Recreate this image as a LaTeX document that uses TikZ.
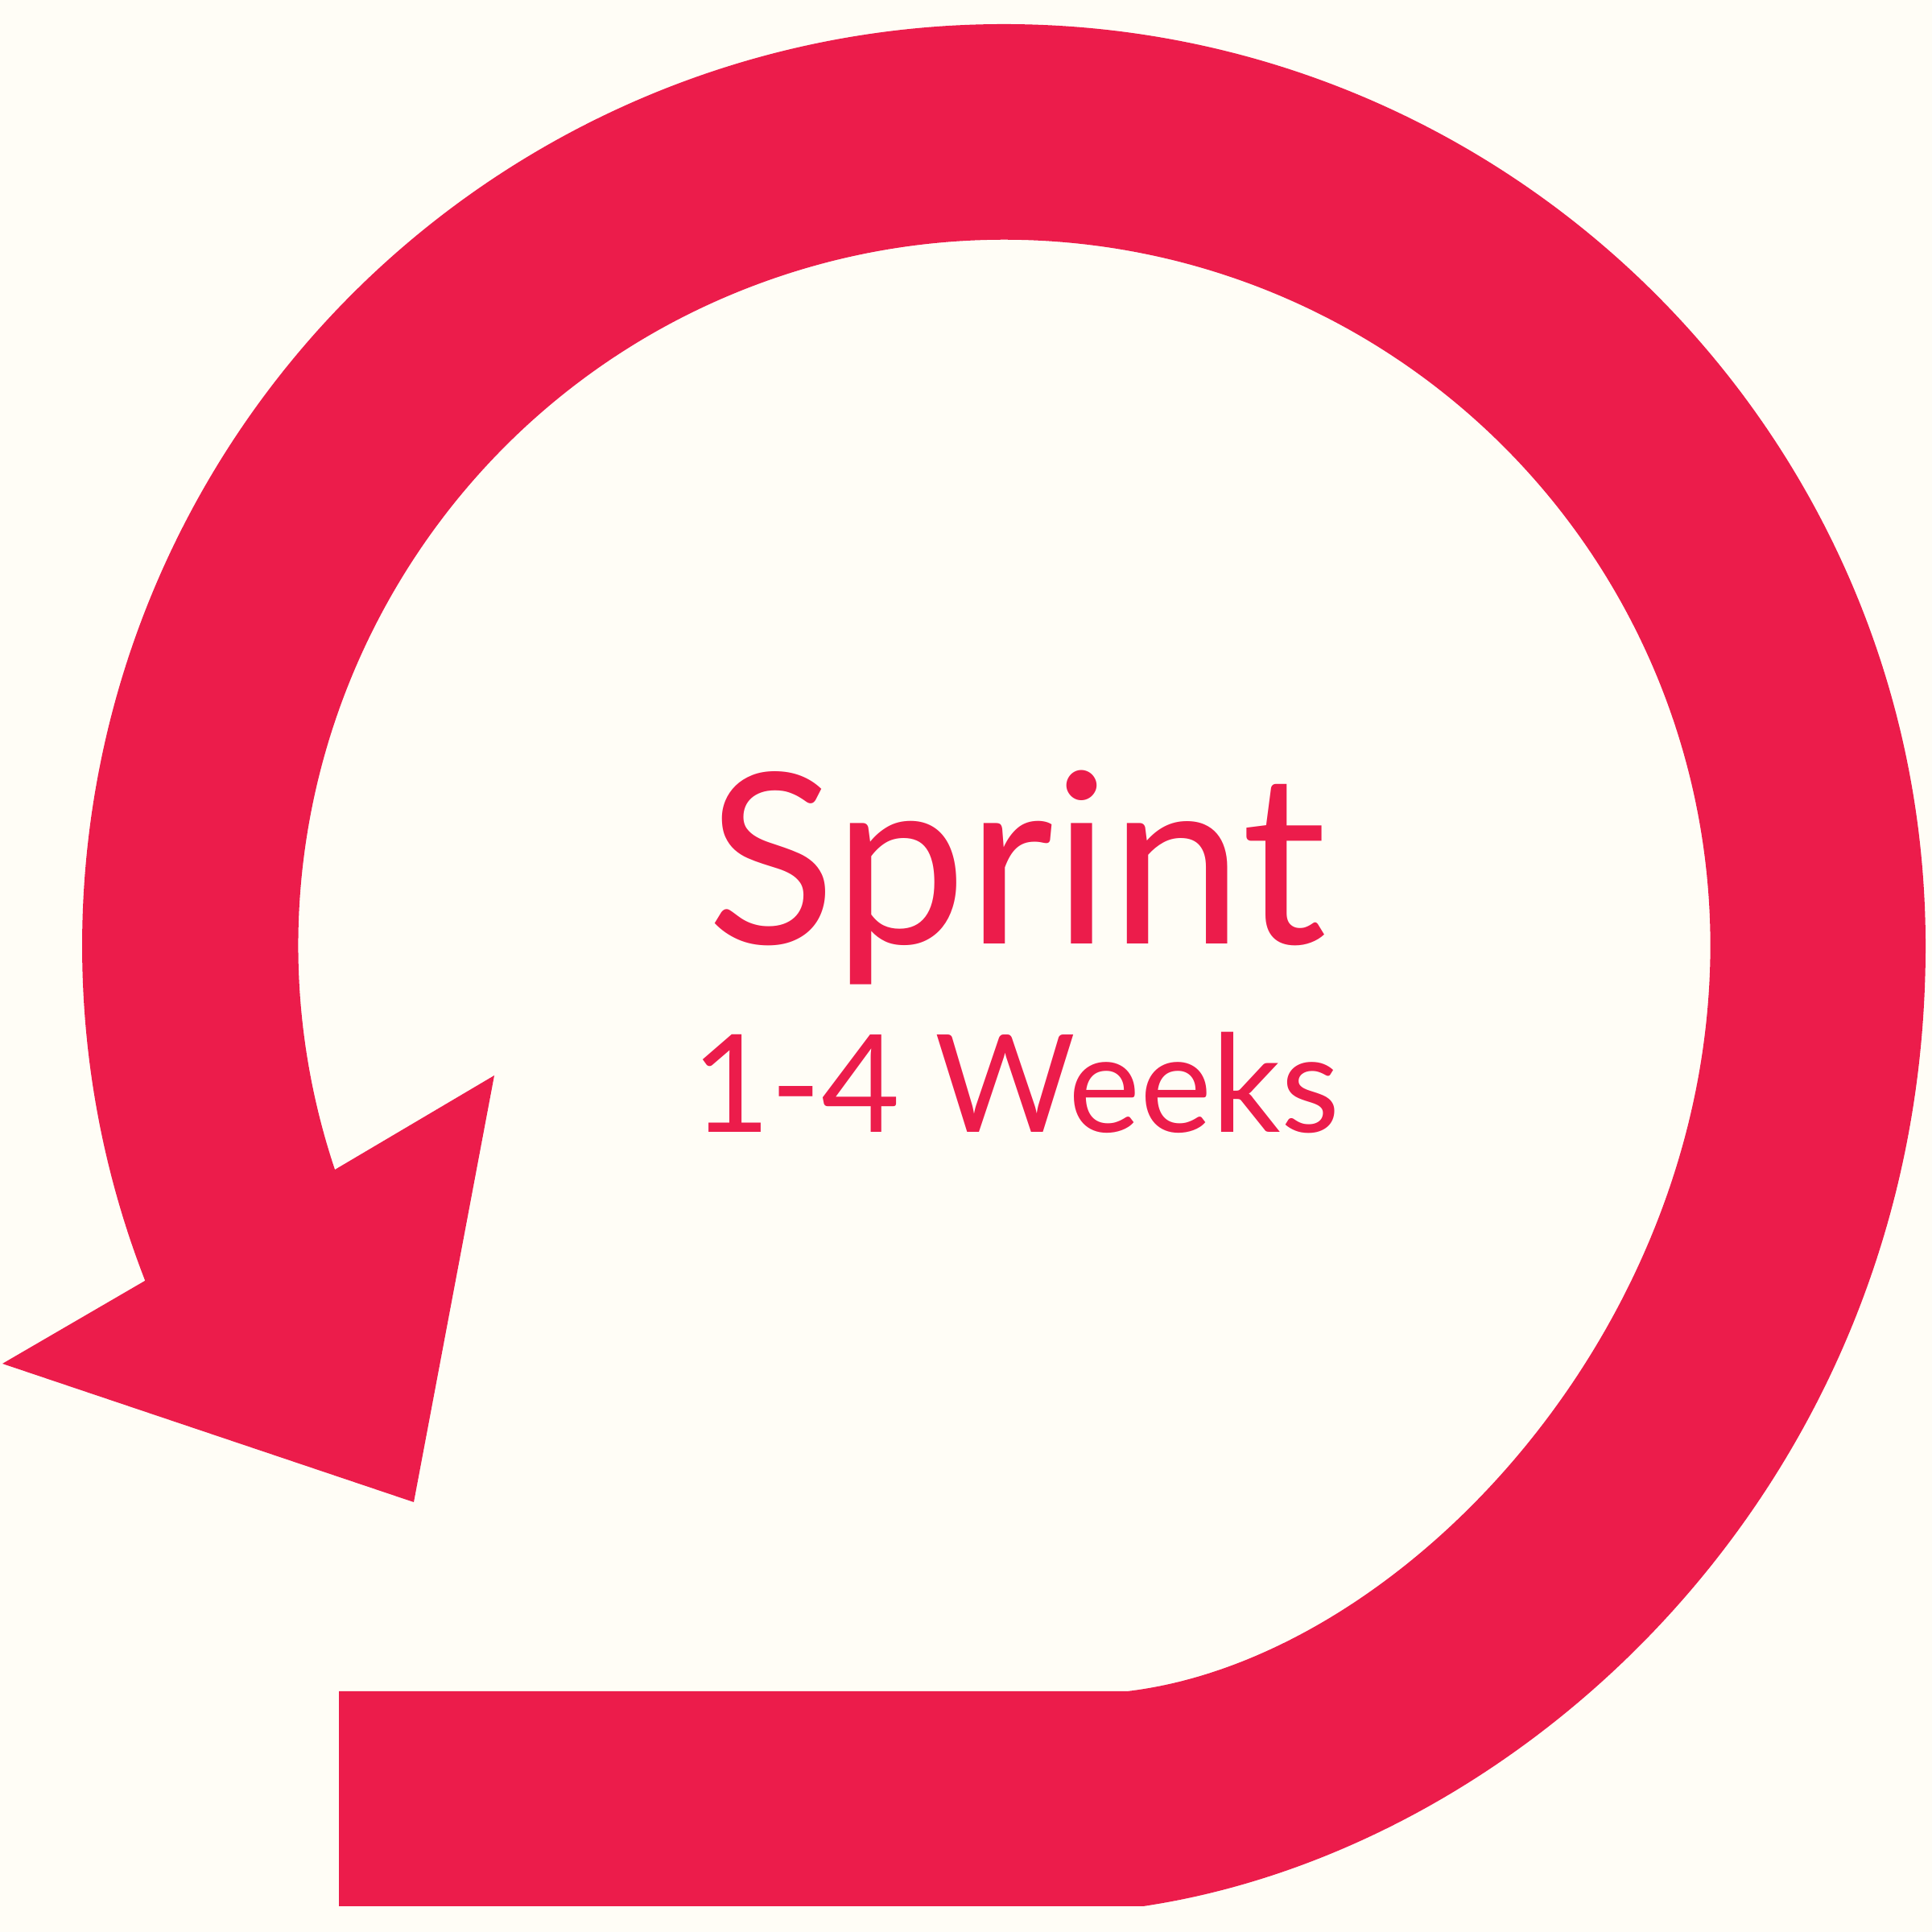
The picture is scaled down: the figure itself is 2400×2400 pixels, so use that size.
\documentclass[tikz,border=0pt]{standalone}
\usepackage{fontspec}
\setmainfont{Lato}
\definecolor{sprintred}{HTML}{EC1C4B}
\definecolor{paper}{HTML}{FFFDF6}
\begin{document}
\begin{tikzpicture}[x=0.01cm,y=0.01cm,
  loopshape/.style={fill=sprintred},
  title/.style={text=sprintred, inner sep=0pt, anchor=base}]
\fill[paper] (0,0) rectangle (2400,2400);
\useasboundingbox (0,0) rectangle (2400,2400);
% looping arrow
\fill[loopshape] (416,947) arc[start angle=198.5, end angle=0, radius=877]
  .. controls (2124,745) and (1740,339) .. (1400,299)
  -- (421,299) -- (421,32) -- (1420,32)
  .. controls (1900,104) and (2392,565) .. (2392,1225)
  arc[start angle=0, end angle=201.3, radius=1145]
  -- (3,706) -- (514,534) -- (614,1064) -- cycle;
% texts
\node[title, font=\fontsize{84}{88}\selectfont] (sprint) at (1263,1227.5) {Sprint};
\node[title, font=\fontsize{48}{50}\selectfont] (weeks) at (1262,993.4) {1-4 Weeks};
\end{tikzpicture}
\end{document}
